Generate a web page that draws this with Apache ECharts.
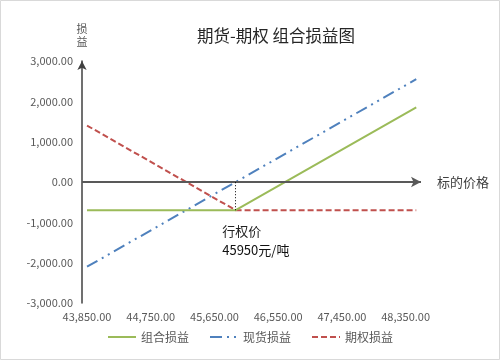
<!DOCTYPE html>
<html><head><meta charset="utf-8">
<script src="https://cdn.jsdelivr.net/npm/echarts@6/dist/echarts.min.js"></script>
<style>html,body{margin:0;padding:0;background:#fff}#c{width:500px;height:360px}</style>
</head><body><div id="c"></div>
<script>
const titleText = '期货-期权 组合损益图';
const seriesNames = ['组合损益', '现货损益', '期权损益'];
const prices = [43850, 45950, 48500];
const comboPL = [-700, -700, 1850];
const spotPL = [-2100, 0, 2550];
const optionPL = [1400, -700, -700];
const xTicks = [43850, 44750, 45650, 46550, 47450, 48350];
const strike = 45950;
const strikePL = -700;
const xName = '标的价格';
const yName = '损益';

const cjk = '"Noto Sans CJK SC", "Noto Sans", sans-serif';
const fmt = v => Number(v).toLocaleString('en-US', {minimumFractionDigits: 2, maximumFractionDigits: 2});
const pairs = ys => prices.map((x, i) => [x, ys[i]]);

const chart = echarts.init(document.getElementById('c'), null, {renderer: 'canvas'});
chart.setOption({
  backgroundColor: '#fff',
  animation: false,
  textStyle: {fontFamily: cjk},
  graphic: [
    {type: 'rect', shape: {x: 0.5, y: 0.5, width: 499, height: 359}, style: {fill: 'none', stroke: '#D9D9D9', lineWidth: 1}, silent: true},
    {type: 'text', x: 276, y: 36, style: {text: titleText, align: 'center', verticalAlign: 'middle', font: '16.5px ' + cjk, fill: '#262626'}}
  ],
  grid: {left: 82, right: 79, top: 61, bottom: 57, containLabel: false, outerBoundsMode: 'none'},
  legend: {
    data: seriesNames, bottom: 12, left: 'center', itemWidth: 28, itemHeight: 14, itemGap: 20,
    itemStyle: {opacity: 0},
    textStyle: {color: '#595959', fontSize: 12, fontFamily: cjk}
  },
  xAxis: {
    type: 'value', min: 43779, max: 48567,
    axisLine: {show: false, onZero: false}, axisTick: {show: false}, splitLine: {show: false},
    axisLabel: {customValues: xTicks, formatter: fmt, color: '#595959', fontSize: 11, margin: 8, fontFamily: cjk}
  },
  yAxis: {
    type: 'value', min: -3000, max: 3000, interval: 1000,
    name: yName.split('').join('\n'), nameLocation: 'end', nameGap: 13,
    nameTextStyle: {color: '#595959', fontSize: 11, lineHeight: 13, align: 'center', verticalAlign: 'bottom', fontFamily: cjk},
    axisLine: {show: true, onZero: false, symbol: ['none', 'arrow'], symbolSize: [7, 9], lineStyle: {color: '#404040', width: 1.5}},
    axisTick: {show: false}, splitLine: {show: false},
    axisLabel: {formatter: fmt, color: '#595959', fontSize: 11, margin: 9, fontFamily: cjk}
  },
  series: [
    {
      name: seriesNames[0], type: 'line', data: pairs(comboPL), symbol: 'none', showSymbol: false,
      itemStyle: {color: '#9BBB59'}, lineStyle: {color: '#9BBB59', width: 2}, z: 3,
      markLine: {
        silent: true, symbol: ['none', 'arrow'], symbolSize: [8, 10], animation: false,
        data: [
          {yAxis: 0, lineStyle: {color: '#595959', width: 2, type: 'solid'},
           label: {show: true, position: 'end', formatter: xName, distance: 16, color: '#404040', fontSize: 13, fontFamily: cjk}},
          [
            {coord: [strike, strikePL], symbol: 'none', lineStyle: {color: '#000', width: 1, type: [1, 2]}, label: {show: false}},
            {coord: [strike, 0], symbol: 'none'}
          ]
        ]
      },
      markPoint: {
        silent: true, animation: false,
        data: [{
          coord: [strike, strikePL], symbol: 'circle', symbolSize: 1, itemStyle: {color: 'rgba(0,0,0,0)'},
          label: {
            show: true, position: [-13, 12], align: 'left', verticalAlign: 'top',
            formatter: '{a|行权价}\n{b|' + strike + '元/吨}',
            rich: {
              a: {fontSize: 13, lineHeight: 19, color: '#222', fontFamily: cjk},
              b: {fontSize: 13, lineHeight: 19, color: '#111', fontFamily: cjk}
            }
          }
        }]
      }
    },
    {
      name: seriesNames[1], type: 'line', data: pairs(spotPL), symbol: 'none', showSymbol: false,
      itemStyle: {color: '#4F81BD'}, lineStyle: {color: '#4F81BD', width: 2, type: [12, 5, 2, 5, 2, 5]}, z: 2
    },
    {
      name: seriesNames[2], type: 'line', data: pairs(optionPL), symbol: 'none', showSymbol: false,
      itemStyle: {color: '#C0504D'}, lineStyle: {color: '#C0504D', width: 2, type: [6, 3]}, z: 2
    }
  ]
});
</script>
</body></html>
